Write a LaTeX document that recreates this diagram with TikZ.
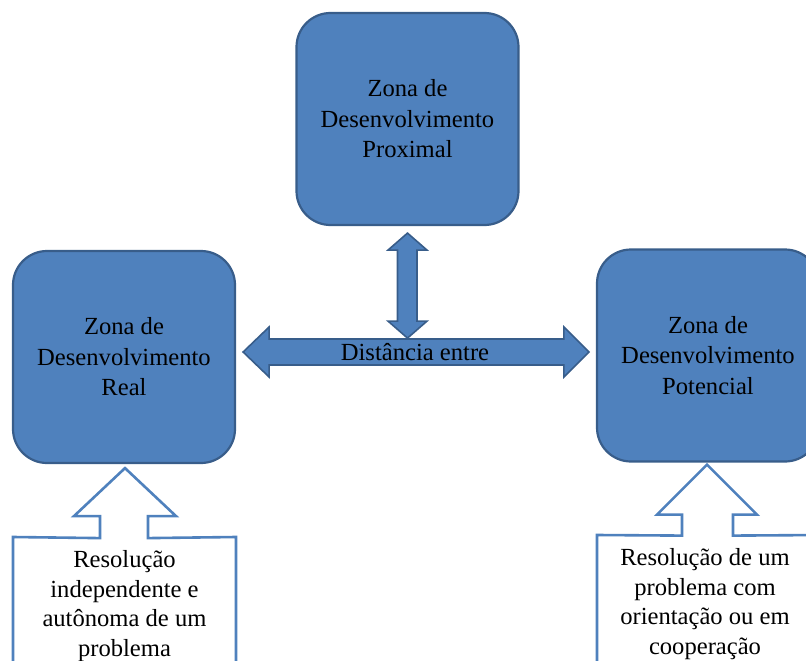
\documentclass[tikz,border=0pt]{standalone}
\usepackage{fontspec}
\setmainfont{Liberation Serif}
\usetikzlibrary{calc}
\definecolor{zfill}{HTML}{4F81BD}
\definecolor{zline}{HTML}{385D8A}
\tikzset{
  zone/.style={draw=zline, line width=2.2pt, fill=zfill, rounded corners=34pt,
    minimum width=222pt, minimum height=212pt, inner sep=0pt,
    align=center, font=\fontsize{24.6}{30.5}\selectfont, text=black},
  blockarrow/.style={draw=zline, line width=1.6pt, fill=zfill, line join=miter},
  callout/.style={draw=zfill, line width=2.6pt, fill=white, line join=miter},
  calltext/.style={align=center, inner sep=0pt, anchor=north,
    font=\fontsize{24.6}{29.8}\selectfont, text=black},
  disttext/.style={inner sep=0pt, font=\fontsize{24.6}{29.8}\selectfont, text=black}
}
\begin{document}
\begin{tikzpicture}[x=1pt,y=-1pt]
\path[use as bounding box] (0,0) rectangle (806,661);
\clip (0,0) rectangle (806,661);

% the three zones
\node[zone] (prox) at (407.5,119) {Zona de\\Desenvolvimento\\Proximal};
\node[zone] (real) at (124,357) {Zona de\\Desenvolvimento\\Real};
\node[zone] (pot)  at (708,355.5) {Zona de\\Desenvolvimento\\Potencial};

% tips of the block arrows, just off the zones
\coordinate (hl) at ($(real.east)+(7,-5)$);
\coordinate (hr) at ($(pot.west)+(-7,-3.5)$);
\coordinate (vt) at ($(prox.south)+(0,7)$);

% horizontal double arrow between the real and potential zones
\draw[blockarrow] (hl) -- ++(26,-25) -- ++(0,12) -| ($(hr)+(-25,-13)$)
  -- ++(0,-12) -- (hr) -- ++(-25,25) -- ++(0,-12) -| ($(hl)+(26,13)$)
  -- ++(0,12) -- cycle;
\node[disttext] (dist) at ($(hl)!0.5!(hr)+(-1,0)$) {Distância entre};

% vertical double arrow from the proximal zone down to the horizontal arrow
\draw[blockarrow] (vt) -- ++(19.5,17) -- ++(-10,0) -- ++(0,71) -- ++(10,0)
  -- ++(-19.5,17) -- ++(-19.5,-17) -- ++(9.5,0) -- ++(0,-71) -- ++(-9.5,0) -- cycle;

% callout under the real zone
\coordinate (lt) at ($(real.south)+(1,4)$);
\draw[callout] (lt) -- ++(51,48) -- ++(-28,0) -- ++(0,22) -- (236,537) -- (236,680)
  -- (13,680) -- (13,537) -- ($(lt)+(-25,70)$) -- ++(0,-22) -- ++(-26,0) -- cycle;
\node[calltext] (ltext) at (124.5,550) {Resolução\\independente e\\autônoma de um\\problema};

% callout under the potential zone
\coordinate (rt) at ($(pot.south)+(-1,2)$);
\draw[callout] (rt) -- ++(50,50) -- ++(-24,0) -- ++(0,21) -- (822,535) -- (822,680)
  -- (597,680) -- (597,535) -- ($(rt)+(-25,71)$) -- ++(0,-21) -- ++(-25,0) -- cycle;
\node[calltext] (rtext) at (705,548) {Resolução de um\\problema com\\orientação ou em\\cooperação};
\end{tikzpicture}
\end{document}
